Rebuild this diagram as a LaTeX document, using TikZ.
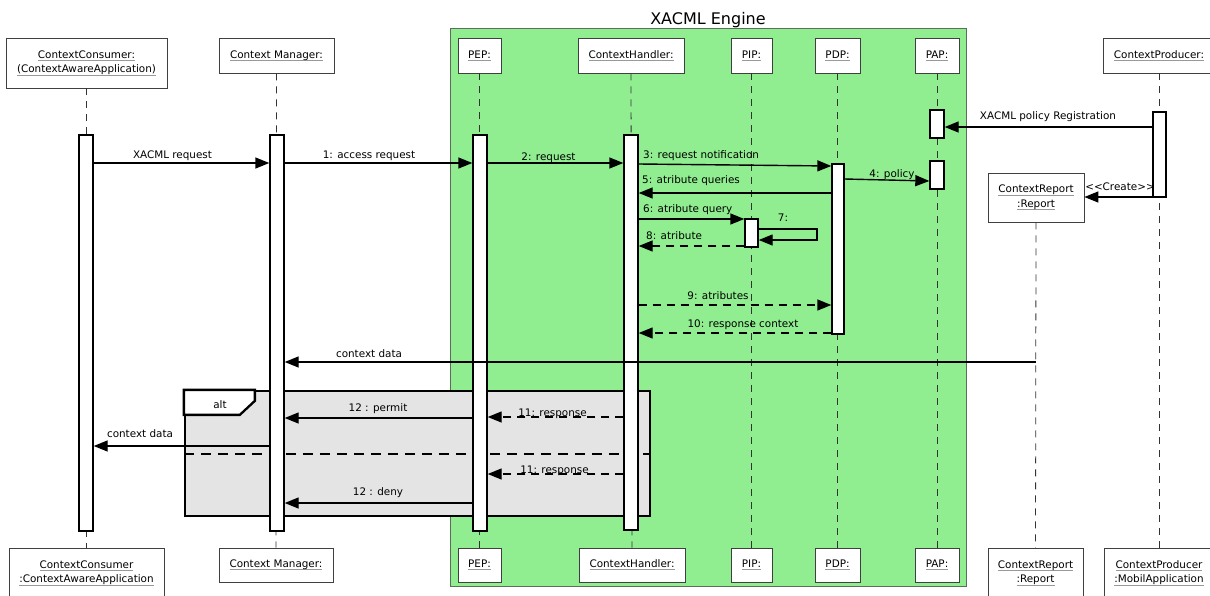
\documentclass[tikz,border=0pt]{standalone}
\usepackage{fontspec}
\setmainfont{DejaVu Sans}
\usetikzlibrary{arrows.meta}
\definecolor{engine}{HTML}{90EE90}
\definecolor{engineborder}{HTML}{5A6E5A}
\definecolor{framegray}{HTML}{E4E4E4}
\newsavebox\ulgbox
\newcommand\ulg[1]{\sbox\ulgbox{#1}\rlap{\color{black!40}\rule[-2.5pt]{\wd\ulgbox}{0.8pt}}\usebox\ulgbox}
\tikzset{
  obj/.style={draw=black!75, fill=white, line width=0.8pt, inner sep=0pt, align=center},
  act/.style={draw=black, fill=white, line width=1.4pt, inner sep=0pt},
  life/.style={draw=black!80, line width=0.8pt, dash pattern=on 7pt off 6pt},
  msg/.style={line width=1.4pt, -{Triangle[length=14pt,width=11pt]}},
  ret/.style={msg, dash pattern=on 8pt off 6pt},
  lbl/.style={inner sep=0pt, anchor=base},
  lblw/.style={inner sep=0pt, anchor=base west},
}
\begin{document}
\begin{tikzpicture}[x=1pt,y=-1pt,font=\fontsize{10.4}{14.5}\selectfont]
\useasboundingbox (0,0) rectangle (1210,595);
\clip (0,0) rectangle (1210,595);

% XACML engine container
\node[draw=engineborder, fill=engine, line width=0.8pt, minimum width=516pt, minimum height=558pt, inner sep=0pt] (engine) at (708,307) {};
\node[inner sep=0pt, anchor=base, font=\fontsize{16}{18}\selectfont] (engTitle) at (708,24) {XACML Engine};

% top object boxes
\node[obj, minimum width=161pt, minimum height=50pt] (tCC) at (86.5,63) {\ulg{ContextConsumer:}\\\ulg{(ContextAwareApplication)}};
\node[obj, minimum width=115pt, minimum height=35pt] (tCM) at (276.5,55.5) {\ulg{Context Manager:}};
\node[obj, minimum width=43pt, minimum height=35pt] (tPEP) at (479.5,55.5) {\ulg{PEP:}};
\node[obj, minimum width=106pt, minimum height=35pt] (tCH) at (631,55.5) {\ulg{ContextHandler:}};
\node[obj, minimum width=41pt, minimum height=35pt] (tPIP) at (751.5,55.5) {\ulg{PIP:}};
\node[obj, minimum width=45pt, minimum height=35pt] (tPDP) at (837.5,55.5) {\ulg{PDP:}};
\node[obj, minimum width=44pt, minimum height=35pt] (tPAP) at (937,55.5) {\ulg{PAP:}};
\node[obj, minimum width=112pt, minimum height=35pt] (tCP) at (1159,55.5) {\ulg{ContextProducer:}};
\node[obj, minimum width=96pt, minimum height=49pt] (tCR) at (1036,197.5) {\ulg{ContextReport}\\\ulg{:Report}};

% bottom object boxes
\node[obj, minimum width=155pt, minimum height=50pt] (bCC) at (86.5,573) {\ulg{ContextConsumer}\\\ulg{:ContextAwareApplication}};
\node[obj, minimum width=114pt, minimum height=34pt] (bCM) at (276,565) {\ulg{Context Manager:}};
\node[obj, minimum width=43pt, minimum height=34pt] (bPEP) at (479.5,565) {\ulg{PEP:}};
\node[obj, minimum width=106pt, minimum height=34pt] (bCH) at (632,565) {\ulg{ContextHandler:}};
\node[obj, minimum width=41pt, minimum height=34pt] (bPIP) at (751.5,565) {\ulg{PIP:}};
\node[obj, minimum width=45pt, minimum height=34pt] (bPDP) at (837.5,565) {\ulg{PDP:}};
\node[obj, minimum width=44pt, minimum height=34pt] (bPAP) at (937,565) {\ulg{PAP:}};
\node[obj, minimum width=95pt, minimum height=50pt] (bCR) at (1035.5,573) {\ulg{ContextReport}\\\ulg{:Report}};
\node[obj, minimum width=110pt, minimum height=50pt] (bCP) at (1159,573) {\ulg{ContextProducer}\\\ulg{:MobilApplication}};

% lifelines
\draw[life] (tCC.south) -- (bCC.north);
\draw[life] (tCM.south) -- (bCM.north);
\draw[life] (tPEP.south) -- (bPEP.north);
\draw[life] (tCH.south) -- (bCH.north);
\draw[life] (tPIP.south) -- (bPIP.north);
\draw[life] (tPDP.south) -- (bPDP.north);
\draw[life] (tPAP.south) -- (bPAP.north);
\draw[life] (tCR.south) -- (bCR.north);
\draw[life] (tCP.south) -- (bCP.north);

% alt frame
\node[draw, line width=2.3pt, fill=framegray, minimum width=465pt, minimum height=125pt, inner sep=0pt] (altframe) at (417.5,453.5) {};
\draw[line width=2.3pt, fill=white, line join=miter] (altframe.north west) -- ++(71,0) -- ++(0,11) -- ++(-15,14) -- ++(-56,0) -- cycle;
\node[lbl] (altLabel) at (220,408) {alt};
\draw[line width=2.3pt, dash pattern=on 10pt off 7pt] (altframe.west |- 0,454) -- (altframe.east |- 0,454);

% activations
\node[act, minimum width=14pt, minimum height=396pt] (aCC) at (86,333) {};
\node[act, minimum width=14pt, minimum height=396pt] (aCM) at (277,333) {};
\node[act, minimum width=14pt, minimum height=396pt] (aPEP) at (480,333) {};
\node[act, minimum width=14pt, minimum height=395pt] (aCH) at (631,332.5) {};
\node[act, minimum width=12pt, minimum height=170pt] (aPDP) at (838,249) {};
\node[act, minimum width=14pt, minimum height=28pt] (aPAP1) at (937,124) {};
\node[act, minimum width=14pt, minimum height=28pt] (aPAP2) at (937,175) {};
\node[act, minimum width=13pt, minimum height=28pt] (aPIP) at (751.5,233) {};
\node[act, minimum width=13pt, minimum height=85pt] (aCP) at (1159.5,154.5) {};

% messages
\draw[msg] (aCC.east |- 0,163) -- (aCM.west |- 0,163);
\node[lbl] (lXreq) at (172.5,158) {XACML request};
\draw[msg] (aCM.east |- 0,163) -- (aPEP.west |- 0,163);
\node[lbl] (l1) at (369,158) {1: access request};
\draw[msg] (aPEP.east |- 0,163) -- (aCH.west |- 0,163);
\node[lbl] (l2) at (548.5,160) {2: request};
\draw[msg] (aCH.east |- 0,164) -- (aPDP.west |- 0,166);
\node[lblw] (l3) at (643,158) {3: request notification};
\draw[msg] (aPDP.west |- 0,193) -- (aCH.east |- 0,193);
\node[lblw] (l5) at (642,183) {5: atribute queries};
\draw[msg] (aPDP.east |- 0,179) -- (aPAP2.west |- 0,181);
\node[lbl] (l4) at (892,177) {4: policy};
\draw[msg] (aCP.west |- 0,127) -- (aPAP1.east |- 0,127);
\node[lbl] (lReg) at (1048,119) {XACML policy Registration};
\draw[msg] (aCP.west |- 0,197) -- (tCR.east |- 0,197);
\node[lbl] (lCreate) at (1120,190) {<{}<Create>{}>};
\draw[msg] (aCH.east |- 0,219) -- (aPIP.west |- 0,219);
\node[lblw] (l6) at (643,212) {6: atribute query};
\coordinate (self7) at (817,229);
\draw[msg] (aPIP.east |- self7) -- (self7) |- (aPIP.east |- 0,240);
\node[lbl] (l7) at (783,221) {7:};
\draw[ret] (aPIP.west |- 0,246) -- (aCH.east |- 0,246);
\node[lblw] (l8) at (646,239) {8: atribute};
\draw[ret] (aCH.east |- 0,305) -- (aPDP.west |- 0,305);
\node[lbl] (l9) at (718,299) {9: atributes};
\draw[ret] (aPDP.west |- 0,333) -- (aCH.east |- 0,333);
\node[lbl] (l10) at (743,327) {10: response context};
\draw[msg] (tCR.south |- 0,362) -- (aCM.east |- 0,362);
\node[lbl] (lcd1) at (369,357) {context data};
\draw[ret] (aCH.west |- 0,417) -- (aPEP.east |- 0,417);
\node[lbl] (l11a) at (552.5,416) {11: response};
\draw[msg] (aPEP.west |- 0,418) -- (aCM.east |- 0,418);
\node[lbl] (l12a) at (378,411) {12 : permit};
\draw[msg] (aCM.west |- 0,446) -- (aCC.east |- 0,446);
\node[lbl] (lcd2) at (140,437) {context data};
\draw[ret] (aCH.west |- 0,474) -- (aPEP.east |- 0,474);
\node[lbl] (l11b) at (554.5,473) {11: response};
\draw[msg] (aPEP.west |- 0,503) -- (aCM.east |- 0,503);
\node[lbl] (l12b) at (378,495) {12 : deny};
\end{tikzpicture}
\end{document}
